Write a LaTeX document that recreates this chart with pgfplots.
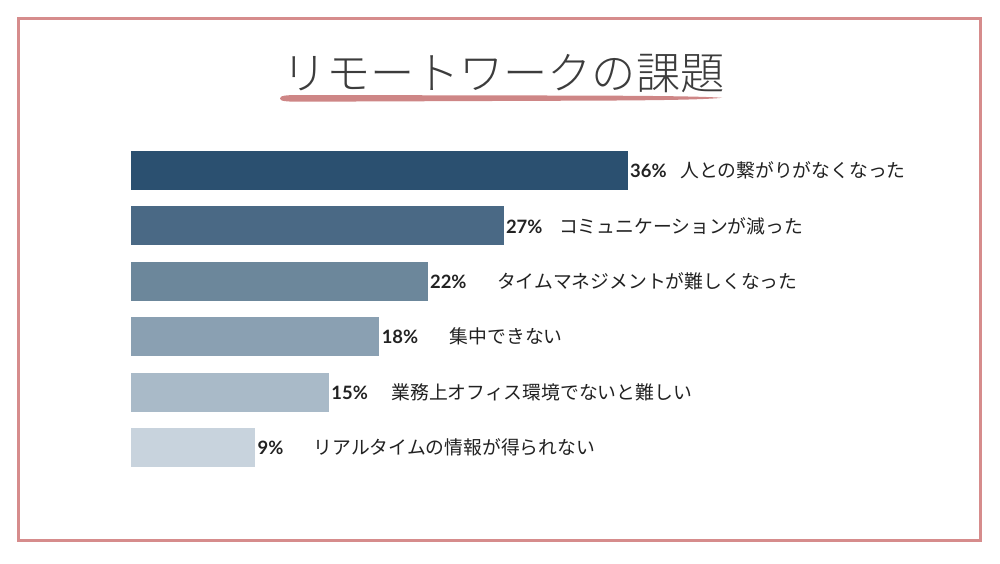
\documentclass[border=0pt]{standalone}
\usepackage{pgfplots}
\pgfplotsset{compat=1.18}
\usepackage{fontspec}
\setmainfont{Lato}
\newfontfamily\jp{Noto Sans CJK JP}
\newfontfamily\jptitle{Noto Sans CJK JP Light}
\definecolor{frame}{RGB}{214,140,140}
\definecolor{brush}{RGB}{204,128,128}
\definecolor{txt}{RGB}{34,34,34}
\definecolor{ttl}{RGB}{60,60,60}
\definecolor{b1}{RGB}{43,80,112}
\definecolor{b2}{RGB}{74,105,133}
\definecolor{b3}{RGB}{108,135,155}
\definecolor{b4}{RGB}{138,160,178}
\definecolor{b5}{RGB}{169,186,200}
\definecolor{b6}{RGB}{200,211,221}
\newcommand\lab[3]{\makebox[#1][l]{\fontsize{9.2}{11}\selectfont\bfseries #2}{\jp\fontsize{9.4}{11}\selectfont #3}}
\begin{document}
\begin{tikzpicture}[x=0.5pt,y=-0.5pt]
\fill[white] (0,0) rectangle (1000,563);
\draw[frame, line width=1.5pt] (18.5,18.5) rectangle (980.5,540.5);
% brush underline
\fill[brush, opacity=0.95] (280,98.5) .. controls (280,95.5) and (286,95) .. (300,95)
  -- (600,95.6) .. controls (670,96) and (705,96.5) .. (722,97.8)
  .. controls (705,99.5) and (670,100.2) .. (600,100.6)
  -- (300,101.7) .. controls (286,101.7) and (280,101.2) .. (280,98.5) -- cycle;
\node[anchor=base, text=ttl, inner sep=0pt] at (503.5,89) {\jptitle\fontsize{22.1}{26}\selectfont リモートワークの課題};
\coordinate (AX) at (131,131.72);
\begin{axis}[
  at={(AX)}, anchor=north west,
  scale only axis, width=414pt, height=177.28pt,
  xmin=0, xmax=60, ymin=-0.7, ymax=5.7, y dir=reverse,
  hide axis, clip=false,
  xbar, bar width=0.704, bar shift=0pt,
  every node near coord/.style={anchor=west, inner sep=0pt, xshift=1pt, text=txt},
]
\addplot[fill=b1, draw=none, nodes near coords={\lab{25pt}{36\%}{人との繋がりがなくなった}}] coordinates {(36,0)};
\addplot[fill=b2, draw=none, nodes near coords={\lab{26.5pt}{27\%}{コミュニケーションが減った}}] coordinates {(27,1)};
\addplot[fill=b3, draw=none, nodes near coords={\lab{33.5pt}{22\%}{タイムマネジメントが難しくなった}}] coordinates {(21.5,2)};
\addplot[fill=b4, draw=none, nodes near coords={\lab{34pt}{18\%}{集中できない}}] coordinates {(18,3)};
\addplot[fill=b5, draw=none, nodes near coords={\lab{30pt}{15\%}{業務上オフィス環境でないと難しい}}] coordinates {(14.35,4)};
\addplot[fill=b6, draw=none, nodes near coords={\lab{28pt}{9\%}{リアルタイムの情報が得られない}}] coordinates {(9,5)};
\end{axis}
\pgfresetboundingbox
\useasboundingbox (0,0) rectangle (1000,563);
\end{tikzpicture}
\end{document}
